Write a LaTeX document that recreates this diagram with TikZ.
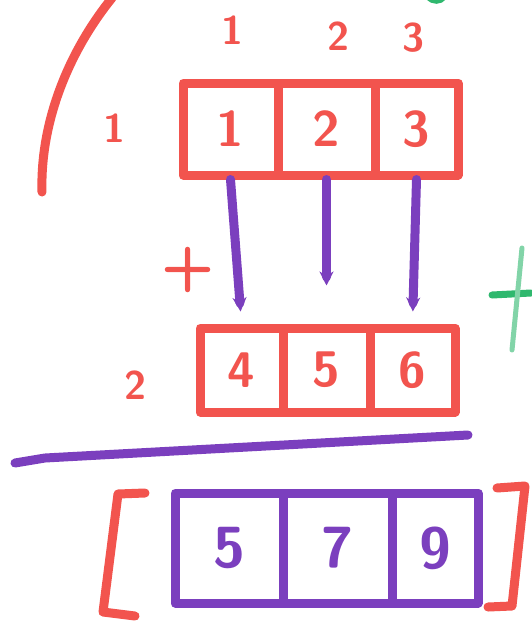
\documentclass[tikz,border=0pt]{standalone}
\usetikzlibrary{arrows.meta}
\definecolor{penred}{HTML}{F2544E}
\definecolor{penpurple}{HTML}{7B3FBE}
\definecolor{pengreen}{HTML}{2FB86E}
\begin{document}
\begin{tikzpicture}[x=1pt,y=-1pt,
  redline/.style={draw=penred,line width=9pt,line cap=round,line join=round},
  purpline/.style={draw=penpurple,line width=9pt,line cap=round,line join=round},
  redcell/.style={redline,rectangle,inner sep=0pt,text=penred,font=\fontsize{50}{50}\selectfont\sffamily\bfseries},
  purpcell/.style={purpline,rectangle,inner sep=0pt,text=penpurple,font=\fontsize{58}{58}\selectfont\sffamily\bfseries},
  lbl/.style={text=penred,font=\fontsize{40}{40}\selectfont\sffamily\bfseries},
  arr/.style={purpline,-{Stealth[length=14pt,width=14pt]}}]
\useasboundingbox (0,0) rectangle (531,630);
\fill[white] (0,0) rectangle (531,630);
% big red arc
\draw[redline] (112,-2) .. controls (70,50) and (40,120) .. (42,192);
% green marks at edges
\draw[draw=pengreen,line width=6pt,line cap=round] (428,-3) .. controls (433,2) and (440,2) .. (444,-3);
\draw[draw=pengreen,line width=5pt,line cap=round] (522,-3) -- (531,-3);
\draw[draw=pengreen,line width=7pt,line cap=round] (492,295) -- (531,293);
\draw[draw=pengreen!60,line width=5pt,line cap=round] (522,248) -- (512,350);
% column headers and row labels
\node[lbl] (h1) at (232,30) {1};
\node[lbl] (h2) at (338,36) {2};
\node[lbl] (h3) at (413,38) {3};
\node[lbl] (r1) at (114,128) {1};
\node[lbl,font=\fontsize{62}{62}\selectfont\sffamily\bfseries] (plus) at (188,270) {+};
\node[lbl] (r2) at (135,385) {2};
% top red box
\node[redcell,minimum width=95pt,minimum height=92pt] (c11) at (230.5,129) {1};
\node[redcell,minimum width=97pt,minimum height=92pt] (c12) at (326.5,129) {2};
\node[redcell,minimum width=83pt,minimum height=92pt] (c13) at (416.5,129) {3};
% second red box
\node[redcell,minimum width=83pt,minimum height=84pt] (c21) at (241.5,370) {4};
\node[redcell,minimum width=87pt,minimum height=84pt] (c22) at (326.5,370) {5};
\node[redcell,minimum width=85pt,minimum height=84pt] (c23) at (412.5,370) {6};
% purple arrows
\draw[arr,shorten >=12pt] (c11.south) -- (c21.north);
\draw[arr,shorten >=38pt] (c12.south) -- (c22.north);
\draw[arr,shorten >=12pt] (c13.south) -- (c23.north);
% sum line
\coordinate (lineR) at (468,435);
\coordinate (lineL) at (15,463);
\draw[purpline] (lineR) -- (45,458) -- (lineL);
% result box
\node[purpcell,minimum width=108pt,minimum height=110pt] (c31) at (229,548) {5};
\node[purpcell,minimum width=109pt,minimum height=110pt] (c32) at (337.5,548) {7};
\node[purpcell,minimum width=86pt,minimum height=110pt] (c33) at (435,548) {9};
% brackets
\draw[redline] (145,493) -- (118,494) -- (103,612) -- (135,616);
\draw[redline] (497,488) -- (525,486) -- (512,606) -- (488,607);
\end{tikzpicture}
\end{document}
